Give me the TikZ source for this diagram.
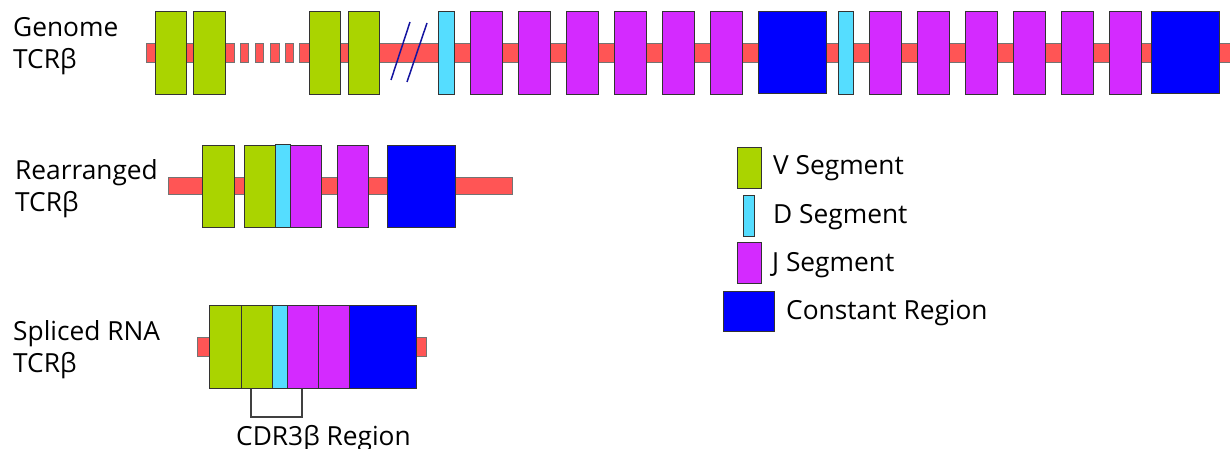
\documentclass[tikz,border=0pt]{standalone}
\usepackage{fontspec}
\setmainfont{Open Sans}
\begin{document}
\begin{tikzpicture}[x=1pt,y=-1pt,
  lbl/.style={anchor=base west,inner sep=0pt,font=\fontsize{26.3}{31}\selectfont},
  seg/.style={draw=black!80,line width=0.9pt},
  vseg/.style={seg,fill=vgreen},
  dseg/.style={seg,fill=dcyan},
  jseg/.style={seg,fill=jmag},
  cseg/.style={seg,fill=cblue},
  bar/.style={draw=black!55,line width=0.9pt,fill=barred},
  slash/.style={draw=slashblue,line width=1.5pt},
  brk/.style={draw=black!75,line width=1.3pt}]
\definecolor{vgreen}{RGB}{170,212,0}
\definecolor{dcyan}{RGB}{85,221,255}
\definecolor{jmag}{RGB}{212,42,255}
\definecolor{cblue}{RGB}{0,0,255}
\definecolor{barred}{RGB}{255,85,85}
\definecolor{slashblue}{RGB}{20,20,160}
\useasboundingbox (0,0) rectangle (1230,449);

% ---------- labels ----------
\node[lbl] (g1) at (13,37) {Genome};
\node[lbl] (g2) at (13,69) {TCRβ};
\node[lbl] (r1) at (15,179) {Rearranged};
\node[lbl] (r2) at (15,211) {TCRβ};
\node[lbl] (s1) at (13,340) {Spliced RNA};
\node[lbl] (s2) at (13,372) {TCRβ};

% ---------- genome row ----------
\path[bar] (146,43) rectangle (234,62);
\foreach \a/\b in {240/248,255/263,270/279,285/293,299/309}
  \path[bar] (\a,43) rectangle (\b,62);
\path[bar] (309,43) rectangle (1232,62);
\foreach \a/\b in {155/186,193/225,309/340,348/379}
  \path[vseg] (\a,11) rectangle (\b,94);
\path[dseg] (438,11) rectangle (454,94);
\path[dseg] (838,11) rectangle (853,94);
\foreach \a in {470,518,566,614,662,710,869,917,965,1013,1061,1109}
  \path[jseg] (\a,11) rectangle ++(32,83);
\path[cseg] (758,11) rectangle (826,93);
\path[cseg] (1151,11) rectangle (1219,93);
\coordinate (sa1) at (391,80); \coordinate (sa2) at (410,22);
\coordinate (sb1) at (407,82); \coordinate (sb2) at (427,23);
\draw[slash] (sa1) -- (sa2);
\draw[slash] (sb1) -- (sb2);

% ---------- rearranged row ----------
\path[bar] (168,177) rectangle (512,194);
\path[vseg] (202,145) rectangle (234,227);
\path[vseg] (244,145) rectangle (275,227);
\path[jseg] (290,145) rectangle (321,227);
\path[dseg] (275,144) rectangle (290,227);
\path[jseg] (337,145) rectangle (368,227);
\path[cseg] (387,145) rectangle (455,227);

% ---------- spliced row ----------
\path[bar] (197,337) rectangle (209,356);
\path[bar] (416,337) rectangle (426,356);
\path[vseg] (209,305) rectangle (241,388);
\path[vseg] (241,305) rectangle (272,388);
\path[dseg] (272,305) rectangle (287,388);
\path[jseg] (287,305) rectangle (318,388);
\path[jseg] (318,305) rectangle (349,388);
\path[cseg] (349,305) rectangle (416,388);
\coordinate (b1) at (251,389); \coordinate (b2) at (302,389);
\draw[brk] (b1) -- (251,417) -- (302,417) -- (b2);
\node[lbl] (cdr) at (236,445) {CDR3β Region};

% ---------- legend ----------
\path[vseg] (737,147) rectangle (761,188);
\node[lbl] (lv) at (773,175) {V Segment};
\path[dseg] (743,195) rectangle (754,236);
\node[lbl] (ld) at (773,223) {D Segment};
\path[jseg] (737,242) rectangle (761,283);
\node[lbl] (lj) at (772,271) {J Segment};
\path[cseg] (723,291) rectangle (774,331);
\node[lbl] (lc) at (786,319) {Constant Region};
\end{tikzpicture}
\end{document}
